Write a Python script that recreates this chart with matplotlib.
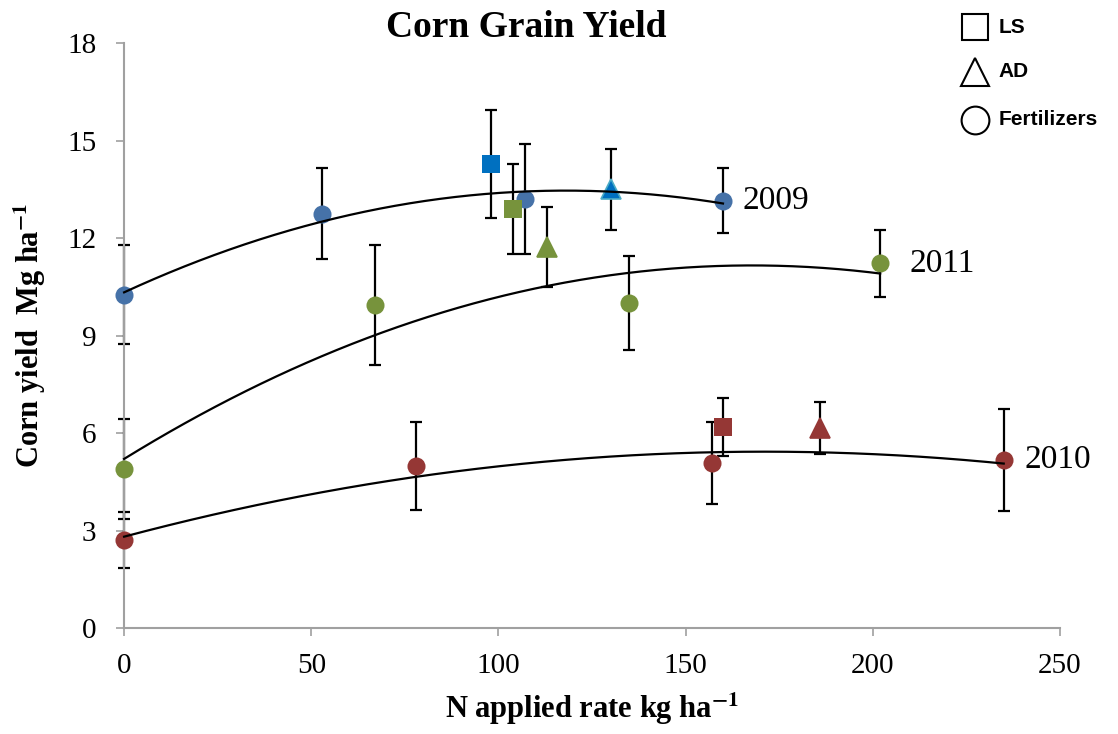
import numpy as np
import matplotlib
matplotlib.use("Agg")
import matplotlib.pyplot as plt
from matplotlib.lines import Line2D

plt.rcParams['font.family'] = ['Liberation Serif', 'DejaVu Serif']
plt.rcParams['mathtext.fontset'] = 'stix'

# N rate (kg/ha), yield (Mg/ha), error for each year and source
years = ['2009', '2011', '2010']
colors = {'2009': '#4672A8', '2011': '#77933C', '2010': '#953735'}
src_colors = {'2009': '#0070C0', '2011': '#77933C', '2010': '#953735'}

fert_x = {'2009': [0, 53, 107, 160],
          '2011': [0, 67, 135, 202],
          '2010': [0, 78, 157, 235]}
fert_y = {'2009': [10.25, 12.74, 13.2, 13.14],
          '2011': [4.89, 9.94, 10.0, 11.22],
          '2010': [2.7, 4.98, 5.08, 5.17]}
fert_err = {'2009': [1.52, 1.4, 1.7, 1.0],
            '2011': [1.55, 1.85, 1.45, 1.03],
            '2010': [0.86, 1.35, 1.25, 1.57]}

ls_x = {'2009': 98, '2011': 104, '2010': 160}
ls_y = {'2009': 14.28, '2011': 12.9, '2010': 6.18}
ls_err = {'2009': 1.65, '2011': 1.38, '2010': 0.9}

ad_x = {'2009': 130, '2011': 113, '2010': 186}
ad_y = {'2009': 13.5, '2011': 11.72, '2010': 6.15}
ad_err = {'2009': 1.25, '2011': 1.22, '2010': 0.8}

label_offset = {'2009': 14, '2011': 21, '2010': 15}

fig = plt.figure(figsize=(11.18, 7.34), dpi=100)
ax = fig.add_axes([0.111, 0.1444, 0.837, 0.797])

ebkw = dict(fmt='none', ecolor='black', elinewidth=1.6, capsize=4, capthick=1.6,
            zorder=2, clip_on=False)

for yr in years:
    xs = np.array(fert_x[yr], dtype=float)
    ys = np.array(fert_y[yr])
    ax.errorbar(xs, ys, yerr=fert_err[yr], **ebkw)
    ax.errorbar([ls_x[yr]], [ls_y[yr]], yerr=[ls_err[yr]], **ebkw)
    ax.errorbar([ad_x[yr]], [ad_y[yr]], yerr=[ad_err[yr]], **ebkw)

    ax.plot(xs, ys, 'o', color=colors[yr], markersize=13, markeredgewidth=0,
            zorder=3, clip_on=False)
    ax.plot(ls_x[yr], ls_y[yr], 's', color=src_colors[yr], markersize=13.5,
            markeredgewidth=0, zorder=3)
    edge = '#4BACC6' if yr == '2009' else src_colors[yr]
    ax.plot(ad_x[yr], ad_y[yr], '^', color=src_colors[yr], markersize=14,
            markeredgecolor=edge, markeredgewidth=1.2, zorder=3)

    # second order trend line of the fertilizer points
    coef = np.polyfit(xs, ys, 2)
    xx = np.linspace(xs[0], xs[-1], 200)
    ax.plot(xx, np.polyval(coef, xx), color='black', linewidth=1.6, zorder=4,
            clip_on=False)

    ax.annotate(yr, (xs[-1], ys[-1]), xytext=(label_offset[yr], 0),
                textcoords='offset points', ha='left', va='center', fontsize=24)

ax.set_xlim(0, 250)
ax.set_ylim(0, 18)
ax.set_xticks(np.arange(0, 251, 50))
ax.set_yticks(np.arange(0, 19, 3))
ax.tick_params(labelsize=21, direction='out', length=6, width=1.2, color='#A0A0A0')
ax.tick_params(axis='y', pad=14)
ax.tick_params(axis='x', pad=12)
for s in ['top', 'right']:
    ax.spines[s].set_visible(False)
for s in ['left', 'bottom']:
    ax.spines[s].set_color('#A0A0A0')
    ax.spines[s].set_linewidth(1.5)

ax.set_xlabel('N applied rate kg ha$^{\\mathbf{-1}}$', fontsize=22, fontweight='bold', labelpad=8)
ax.set_ylabel('Corn yield  Mg ha$^{\\mathbf{-1}}$', fontsize=22, fontweight='bold', labelpad=14)
fig.text(0.471, 0.963, 'Corn Grain Yield', ha='center', va='center',
         fontsize=27, fontweight='bold')

# marker key, top right
keys = [('s', 'LS', 0.963), ('^', 'AD', 0.902), ('o', 'Fertilizers', 0.837)]
for m, txt, yy in keys:
    fig.add_artist(Line2D([0.872], [yy], marker=m, markersize=20 if m != 's' else 19,
                          markerfacecolor='none', markeredgecolor='black',
                          markeredgewidth=1.5, transform=fig.transFigure))
    fig.text(0.893, yy, txt, ha='left', va='center', fontsize=15, fontweight='bold',
             family=['Liberation Sans', 'DejaVu Sans'])

fig.savefig('out.png', dpi=100)
